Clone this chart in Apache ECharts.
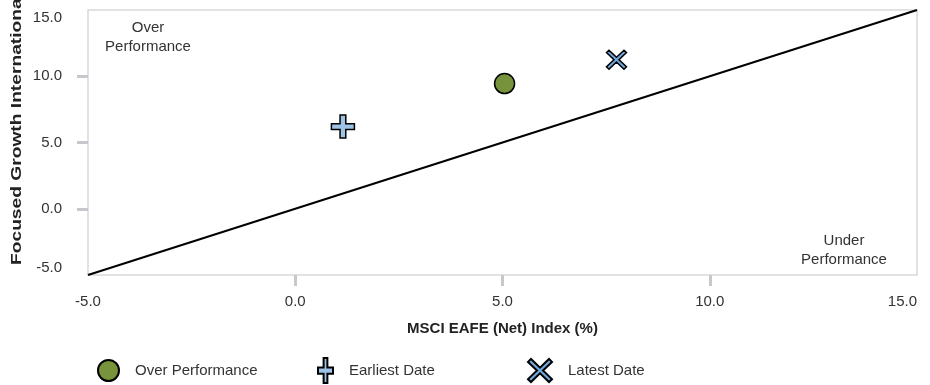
<!DOCTYPE html>
<html><head><meta charset="utf-8">
<script src="https://cdn.jsdelivr.net/npm/echarts@6/dist/echarts.min.js"></script>
<style>html,body{margin:0;padding:0;background:#fff}#c{width:930px;height:385px}</style>
</head><body><div id="c"></div>
<script>
// ---- data ----
const axisMin = -5;
const axisMax = 15;
const axisStep = 5;
const innerTicks = [0, 5, 10];
const diagonalLine = [[-5, -5], [15, 15]];
const overPerformance = [[5.05, 9.45]];
const earliestDate = [[1.15, 6.2]];
const latestDate = [[7.75, 11.25]];
const seriesNames = ['Over Performance', 'Earliest Date', 'Latest Date'];
const xAxisName = 'MSCI EAFE (Net) Index (%)';
const yAxisName = 'Focused Growth International Fund (%)';
const upperLabel = 'Over\nPerformance';
const lowerLabel = 'Under\nPerformance';

// ---- styling ----
const FONT = 'Arial, "Liberation Sans", sans-serif';
const plusPath = 'path://M9,0 H15 V9 H24 V15 H15 V24 H9 V15 H0 V9 H9 Z';
const crossPath = 'path://M0,3 L3,0 L12,9 L21,0 L24,3 L15,12 L24,21 L21,24 L12,15 L3,24 L0,21 L9,12 Z';
const tickStyle = { color: '#c5c9cd', width: 3 };

const chart = echarts.init(document.getElementById('c'), null, { renderer: 'canvas' });

function legendAt(left, top, name, icon, w, h) {
  return {
    left: left, top: top, itemWidth: w, itemHeight: h,
    symbolKeepAspect: false,
    data: [{ name: name, icon: icon }],
    selectedMode: false,
    textStyle: { fontFamily: FONT, fontSize: 15, color: '#333', padding: [0, 0, 0, 11] }
  };
}

const option = {
  animation: false,
  backgroundColor: '#fff',
  grid: { left: 88, right: 13, top: 10, bottom: 110, show: true, borderColor: '#d9d9d9', borderWidth: 1.5, containLabel: false },
  xAxis: {
    type: 'value', min: axisMin, max: axisMax, interval: axisStep,
    axisLine: { show: false, onZero: false }, splitLine: { show: false },
    axisTick: { show: true, length: 11, lineStyle: tickStyle, customValues: innerTicks },
    axisLabel: { formatter: v => v.toFixed(1), fontFamily: FONT, fontSize: 15, color: '#333', margin: 19, alignMaxLabel: 'right' },
    name: xAxisName, nameLocation: 'middle', nameGap: 46,
    nameTextStyle: { fontFamily: FONT, fontSize: 15, fontWeight: 'bold', color: '#222' }
  },
  yAxis: {
    type: 'value', min: axisMin, max: axisMax, interval: axisStep,
    axisLine: { show: false, onZero: false }, splitLine: { show: false },
    axisTick: { show: true, length: 11, lineStyle: tickStyle, customValues: innerTicks },
    axisLabel: { formatter: v => v.toFixed(1), fontFamily: FONT, fontSize: 15, color: '#333', margin: 26,
      verticalAlignMinLabel: 'bottom', verticalAlignMaxLabel: 'top' }
  },
  legend: [
    legendAt(92, 354, seriesNames[0], 'circle', 21, 21),
    legendAt(312, 352, seriesNames[1], plusPath, 15, 25),
    legendAt(522, 353, seriesNames[2], crossPath, 24, 23)
  ],
  graphic: [
    { type: 'text', x: 17, y: 265, rotation: Math.PI / 2, scaleX: 1.28,
      style: { text: yAxisName, font: 'bold 15px ' + FONT, fill: '#222', textAlign: 'left', textVerticalAlign: 'middle' } },
    { type: 'text', x: 148, y: 37,
      style: { text: upperLabel, font: '15px ' + FONT, fill: '#333', textAlign: 'center', textVerticalAlign: 'middle', lineHeight: 19 } },
    { type: 'text', x: 844, y: 250,
      style: { text: lowerLabel, font: '15px ' + FONT, fill: '#333', textAlign: 'center', textVerticalAlign: 'middle', lineHeight: 19 } }
  ],
  series: [
    { type: 'line', data: diagonalLine, showSymbol: false, silent: true, lineStyle: { color: '#000', width: 2 }, z: 1 },
    { name: seriesNames[0], type: 'scatter', data: overPerformance, symbol: 'circle', symbolSize: 20,
      itemStyle: { color: '#77933C', borderColor: '#000', borderWidth: 1.5, opacity: 1 }, z: 3 },
    { name: seriesNames[1], type: 'scatter', data: earliestDate, symbol: plusPath, symbolSize: [23, 23],
      itemStyle: { color: '#9DC3E6', borderColor: '#000', borderWidth: 1.5, opacity: 1 }, z: 3 },
    { name: seriesNames[2], type: 'scatter', data: latestDate, symbol: crossPath, symbolSize: [20, 19],
      itemStyle: { color: '#6FA8DC', borderColor: '#000', borderWidth: 1.5, opacity: 1 }, z: 3 }
  ]
};
chart.setOption(option);
</script></body></html>
